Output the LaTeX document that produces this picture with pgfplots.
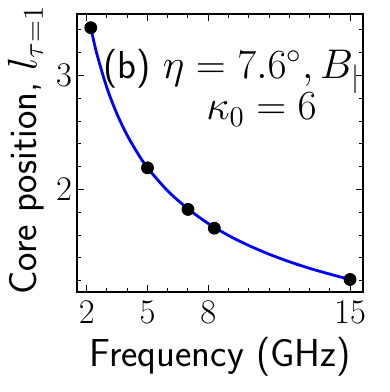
\documentclass[border=0pt]{standalone}
\usepackage{pgfplots}
\pgfplotsset{compat=1.18}
\usepackage{amsmath}

\begin{document}
\begin{tikzpicture}
\begin{axis}[
  width=143pt, height=139pt,
  scale only axis,
  xmin=1.52, xmax=15.64,
  ymin=1.10, ymax=3.54,
  xtick={2,5,8,15},
  minor xtick={3,4,6,7,9,10,11,12,13,14},
  ytick={2,3},
  minor ytick={1.2,1.4,1.6,1.8,2.2,2.4,2.6,2.8,3.2,3.4},
  tick align=inside,
  tick pos=both,
  major tick length=3.5pt,
  minor tick length=2pt,
  every tick/.style={black,line width=0.5pt},
  axis line style={line width=0.6pt},
  ticklabel style={font=\fontsize{19}{21}\selectfont},
  xticklabel style={yshift=-1pt},
  yticklabel style={xshift=1pt},
  xlabel={\sffamily Frequency (GHz)},
  ylabel={\sffamily Core position, $l_{\tau=1}$},
  label style={font=\fontsize{19.5}{21}\selectfont},
  xlabel style={at={(rel axis cs:0.5,0)}, anchor=center, yshift=-32.5pt},
  ylabel style={at={(rel axis cs:0,0.51)}, anchor=center, yshift=25.5pt},
]
\addplot[blue, line width=1.4pt, smooth] coordinates {
  (2.2,3.42) (2.5,3.19) (3,2.89) (3.5,2.66) (4,2.475) (4.5,2.322)
  (5,2.19) (6,1.987) (7,1.83) (8,1.701) (9,1.596) (10,1.508)
  (11,1.432) (12,1.366) (13,1.308) (14,1.257) (15,1.21)
};
\addplot[only marks, mark=*, mark size=3pt, black] coordinates {
  (2.2,3.42) (5,2.19) (7,1.825) (8.3,1.66) (15,1.21)
};
\node[font=\fontsize{19.5}{21}\selectfont] at (rel axis cs:0.555,0.793)
  {\sffamily (b) $\eta=7.6^\circ, B_{||}$};
\node[font=\fontsize{20.5}{22}\selectfont] at (rel axis cs:0.645,0.656)
  {$\kappa_0=6$};
\end{axis}
\pgfresetboundingbox
\path ([shift={(-38.5pt,-50pt)}]current axis.south west) rectangle ([shift={(13.5pt,7pt)}]current axis.north east);
\end{tikzpicture}
\end{document}
